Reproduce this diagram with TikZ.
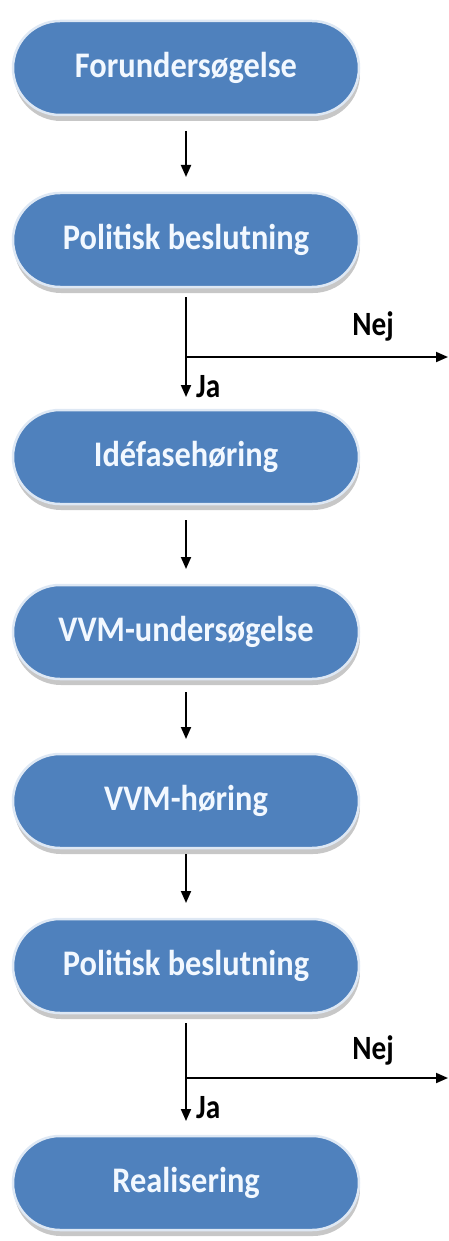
\documentclass[tikz,border=0pt]{standalone}
\usepackage{fontspec}
\setmainfont{Carlito}
\newfontfamily\boxfont[FakeStretch=0.9]{Carlito}
\newfontfamily\lblfont[FakeStretch=0.86]{Carlito}
\usetikzlibrary{arrows.meta,shadows}
\definecolor{boxblue}{RGB}{79,129,189}
\definecolor{boxedge}{RGB}{222,232,244}
\definecolor{boxtext}{RGB}{242,248,255}
\tikzset{
  stage/.style={rectangle, rounded corners=47pt, minimum width=346pt, minimum height=94pt,
    fill=boxblue, draw=boxedge, line width=2.5pt, outer sep=0pt, inner sep=0pt,
    text=boxtext, font=\boxfont\bfseries\fontsize{36}{42}\selectfont,
    drop shadow={shadow xshift=1pt, shadow yshift=-6pt, fill=black!40, opacity=0.55}},
  flow/.style={line width=1.9pt, -{Triangle[width=10pt,length=12pt]}},
  lbl/.style={font=\lblfont\bfseries\fontsize{34}{40}\selectfont, inner sep=0pt}
}
\begin{document}
\begin{tikzpicture}[x=1pt,y=-1pt]
\useasboundingbox (0,0) rectangle (449,1241);
\node[stage] (s1) at (186,68) {Forundersøgelse};
\node[stage] (s2) at (186,240) {Politisk beslutning};
\node[stage] (s3) at (186,457) {Idéfasehøring};
\node[stage] (s4) at (186,632) {VVM-undersøgelse};
\node[stage] (s5) at (186,801) {VVM-høring};
\node[stage] (s6) at (186,966) {Politisk beslutning};
\node[stage] (s7) at (186,1183) {Realisering};
\coordinate (b1) at (186,357);
\coordinate (e1) at (448,357);
\coordinate (b2) at (186,1078);
\coordinate (e2) at (448,1078);
\draw[flow, shorten <=16pt, shorten >=16pt] (s1) -- (s2);
\draw[flow, shorten <=10pt, shorten >=13pt] (s2) -- (s3);
\draw[flow] (b1) -- (e1);
\draw[flow, shorten <=16pt, shorten >=16pt] (s3) -- (s4);
\draw[flow, shorten <=13pt, shorten >=15pt] (s4) -- (s5);
\draw[flow, shorten <=6pt, shorten >=16pt] (s5) -- (s6);
\draw[flow, shorten <=10pt, shorten >=15pt] (s6) -- (s7);
\draw[flow] (b2) -- (e2);
\node[lbl] (n1) at (373,326) {Nej};
\node[lbl, anchor=west] (j1) at (196,387) {Ja};
\node[lbl] (n2) at (373,1050) {Nej};
\node[lbl, anchor=west] (j2) at (196,1108) {Ja};
\end{tikzpicture}
\end{document}
